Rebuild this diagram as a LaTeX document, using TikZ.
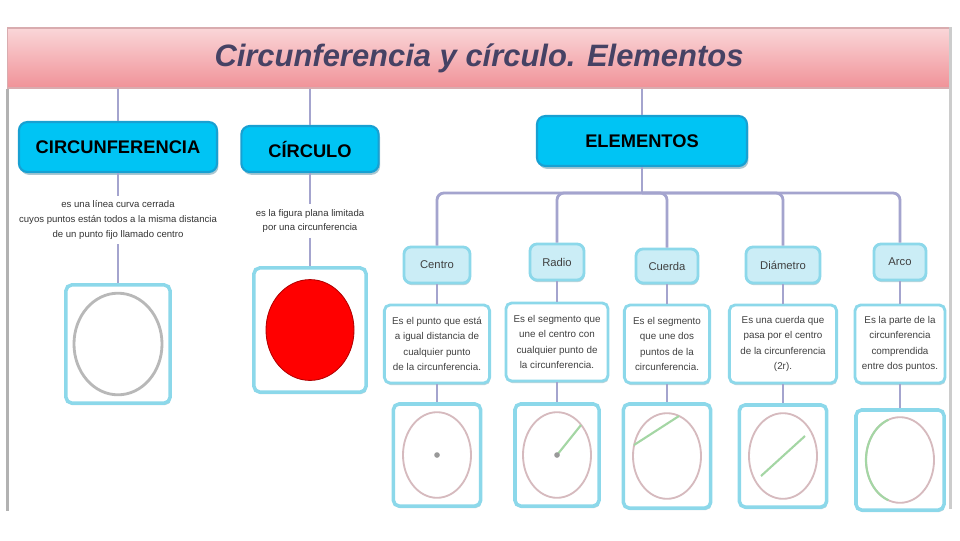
\documentclass[tikz,border=0pt]{standalone}
\usepackage{fontspec}
\setmainfont{Liberation Sans}
\usetikzlibrary{positioning}
\usetikzlibrary{shadows}
\definecolor{cajaazul}{RGB}{0,196,244}
\definecolor{bordeazul}{RGB}{24,160,210}
\definecolor{celeste}{RGB}{140,216,234}
\definecolor{lila}{RGB}{164,164,206}
\definecolor{rosa}{RGB}{214,186,190}
\definecolor{verdeclaro}{RGB}{164,214,164}
\definecolor{tinta}{RGB}{70,66,100}
\definecolor{rosaclaro}{RGB}{250,214,216}
\definecolor{rosafuerte}{RGB}{240,146,152}

\tikzset{
  titlebar/.style={rectangle, draw=rosafuerte!80!black!60, line width=0.8pt, top color=rosaclaro, bottom color=rosafuerte, text=tinta,
    font=\fontsize{22}{25}\selectfont\bfseries\itshape},
  bigbox/.style={rectangle, rounded corners=6pt, draw=bordeazul, line width=1.5pt, fill=cajaazul,
    font=\fontsize{13}{15}\selectfont\bfseries,
    drop shadow={shadow xshift=1pt, shadow yshift=-2pt, fill=bordeazul!60!black, opacity=0.35}},
  labelbox/.style={rectangle, rounded corners=5pt, draw=celeste, line width=2pt, fill=celeste!45,
    font=\fontsize{8}{9}\selectfont, text=black!75,
    drop shadow={shadow xshift=0.5pt, shadow yshift=-1.5pt, fill=celeste!70!black, opacity=0.4}},
  descbox/.style={rectangle, rounded corners=4pt, draw=celeste, line width=2pt, fill=white, align=center,
    font=\fontsize{7}{11}\selectfont, text=black!75,
    drop shadow={shadow xshift=0.5pt, shadow yshift=-1.5pt, fill=celeste!70!black, opacity=0.4}},
  picbox/.style={rectangle, rounded corners=4pt, draw=celeste, line width=2.5pt, fill=white,
    drop shadow={shadow xshift=0.5pt, shadow yshift=-1.5pt, fill=celeste!70!black, opacity=0.4}},
  desc/.style={align=center, font=\fontsize{6.8}{10.5}\selectfont, text=black!80},
  link/.style={draw=lila, line width=2pt},
  wall/.style={draw=black!30, line width=2.2pt},
}

\begin{document}
\begin{tikzpicture}[x=0.025cm,y=-0.025cm]
\useasboundingbox[fill=white] (0,0) rectangle (960,540);

% title bar and frame
\node[titlebar, minimum width=23.55cm, minimum height=1.5cm] (title) at (479,58) {Circunferencia y círculo. Elementos};
\draw[wall] (title.south west) -- ++(0,422);
\draw[wall, draw=black!20] (title.north east) -- ++(0,482);

% main concepts
\node[bigbox, minimum width=4.95cm, minimum height=1.25cm] (circ) at (118,147) {CIRCUNFERENCIA};
\node[bigbox, minimum width=3.43cm, minimum height=1.15cm] (circulo) at (310,149) {CÍRCULO};
\node[bigbox, minimum width=5.25cm, minimum height=1.25cm] (elem) at (642,141) {ELEMENTOS};

\draw[link] (title.south -| circ) -- (circ);
\draw[link] (title.south -| circulo) -- (circulo);
\draw[link] (title.south -| elem) -- (elem);

% circunferencia
\node[desc] (circ-txt) at (118,220) {es una línea curva cerrada\\cuyos puntos están todos a la misma distancia\\de un punto fijo llamado centro};
\node[picbox, minimum width=2.6cm, minimum height=2.95cm] (circ-img) at (118,344) {};
\draw[black!28, line width=2pt] (circ-img) ellipse [x radius=1.1cm, y radius=1.27cm];
\draw[link] (circ) -- (circ-txt);
\draw[link] (circ-txt) -- (circ-img);

% circulo
\node[desc] (circulo-txt) at (310,221) {es la figura plana limitada\\por una circunferencia};
\node[picbox, minimum width=2.8cm, minimum height=3.1cm] (circulo-img) at (310,330) {};
\fill[red, draw=red!70!black, line width=0.6pt] (circulo-img) ellipse [x radius=1.1cm, y radius=1.26cm];
\draw[link] (circulo) -- (circulo-txt);
\draw[link] (circulo-txt) -- (circulo-img);

% elementos
\coordinate (bus) at (642,193);
\node[labelbox, minimum width=1.65cm, minimum height=0.9cm] (centro) at (437,265) {Centro};
\node[labelbox, minimum width=1.35cm, minimum height=0.9cm] (radio) at (557,262) {Radio};
\node[labelbox, minimum width=1.55cm, minimum height=0.85cm] (cuerda) at (667,266) {Cuerda};
\node[labelbox, minimum width=1.85cm, minimum height=0.9cm] (diametro) at (783,265) {Diámetro};
\node[labelbox, minimum width=1.3cm, minimum height=0.9cm] (arco) at (900,262) {Arco};

\node[descbox, minimum width=2.63cm, minimum height=1.95cm] (centro-txt) at (437,344) {Es el punto que está\\a igual distancia de\\cualquier punto\\de la circunferencia.};
\node[descbox, minimum width=2.55cm, minimum height=1.95cm] (radio-txt) at (557,342) {Es el segmento que\\une el centro con\\cualquier punto de\\la circunferencia.};
\node[descbox, minimum width=2.13cm, minimum height=1.95cm] (cuerda-txt) at (667,344) {Es el segmento\\que une dos\\puntos de la\\circunferencia.};
\node[descbox, minimum width=2.68cm, minimum height=1.95cm] (diametro-txt) at (783,344) {Es una cuerda que\\pasa por el centro\\de la circunferencia\\(2r).};
\node[descbox, minimum width=2.25cm, minimum height=1.95cm] (arco-txt) at (900,344) {Es la parte de la\\circunferencia\\comprendida\\entre dos puntos.};

\node[picbox, minimum width=2.18cm, minimum height=2.55cm] (centro-img) at (437,455) {};
\node[picbox, minimum width=2.1cm, minimum height=2.55cm] (radio-img) at (557,455) {};
\node[picbox, minimum width=2.18cm, minimum height=2.6cm] (cuerda-img) at (667,456) {};
\node[picbox, minimum width=2.18cm, minimum height=2.55cm] (diametro-img) at (783,456) {};
\node[picbox, minimum width=2.2cm, minimum height=2.5cm] (arco-img) at (900,460) {};

\draw[link] (elem) -- (bus);
\foreach \n in {centro,radio,cuerda,diametro,arco}{
  \draw[link, rounded corners=5pt] (bus) -| (\n);
  \draw[link] (\n) -- (\n-txt);
  \draw[link] (\n-txt) -- (\n-img);
  \draw[rosa, line width=1.3pt] (\n-img) ellipse [x radius=0.85cm, y radius=1.07cm];
}

% figures of the elements
\fill[black!40] (centro-img) circle (2pt);
\draw[verdeclaro, line width=1.5pt] (radio-img.center) -- ++(24,-30);
\fill[black!40] (radio-img) circle (2pt);
\draw[verdeclaro, line width=1.5pt] ([shift={(-33,-11)}]cuerda-img.center) -- ([shift={(12,-40)}]cuerda-img.center);
\draw[verdeclaro, line width=1.5pt] ([shift={(-22,20)}]diametro-img.center) -- ([shift={(22,-20)}]diametro-img.center);
\draw[verdeclaro, line width=1.5pt] ([shift={(110:0.85cm and 1.07cm)}]arco-img.center) arc[start angle=110, end angle=250, x radius=0.85cm, y radius=1.07cm];
\end{tikzpicture}
\end{document}
